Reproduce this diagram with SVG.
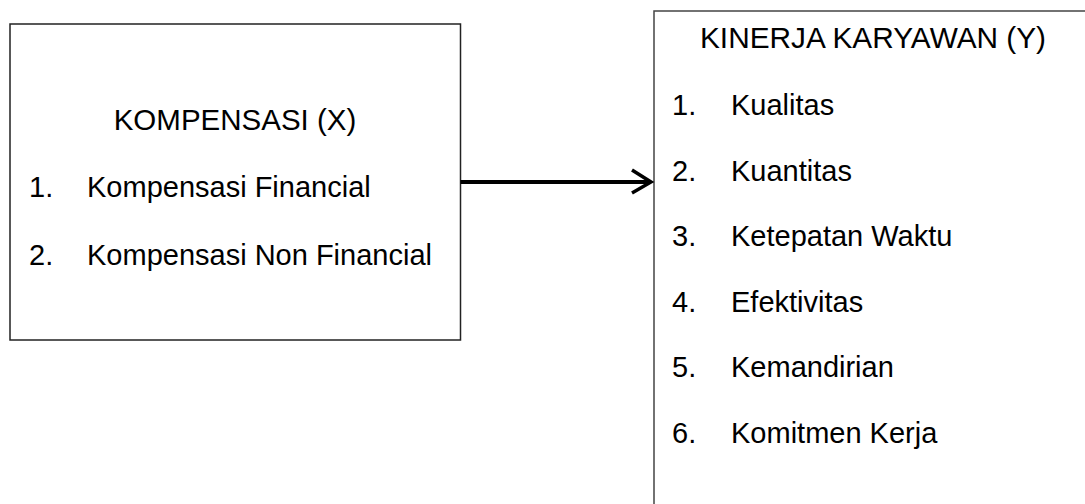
<svg xmlns="http://www.w3.org/2000/svg" width="1085" height="504" viewBox="0 0 1085 504">
<style>
.box{fill:#fff;stroke:#222;stroke-width:1.5}
.t{font-family:"Liberation Sans",Arial,sans-serif;font-size:29px;fill:#000}
</style>
<rect width="1085" height="504" fill="#fff"/>
<g id="kompensasi">
<rect class="box" x="10" y="24" width="450.5" height="316"/>
<text class="t" x="235" y="130" text-anchor="middle" style="font-size:29.5px">KOMPENSASI (X)</text>
<text class="t" x="29" y="197">1.</text><text class="t" x="87" y="197">Kompensasi Financial</text>
<text class="t" x="29" y="265">2.</text><text class="t" x="87" y="265">Kompensasi Non Financial</text>
</g>
<g id="kinerja">
<rect class="box" x="654" y="11" width="440" height="510" style="stroke:#444"/>
<text class="t" x="700" y="48" style="font-size:29.8px">KINERJA KARYAWAN (Y)</text>
<text class="t" x="672" y="115">1.</text><text class="t" x="731" y="115">Kualitas</text>
<text class="t" x="672" y="181">2.</text><text class="t" x="731" y="181">Kuantitas</text>
<text class="t" x="672" y="246">3.</text><text class="t" x="731" y="246">Ketepatan Waktu</text>
<text class="t" x="672" y="312">4.</text><text class="t" x="731" y="312">Efektivitas</text>
<text class="t" x="672" y="377">5.</text><text class="t" x="731" y="377">Kemandirian</text>
<text class="t" x="672" y="443">6.</text><text class="t" x="731" y="443">Komitmen Kerja</text>
</g>
<g id="connectors" fill="none" stroke="#000">
<line x1="460.5" y1="182" x2="650" y2="182" stroke-width="4"/>
<polyline points="632,170 651,182 632,193" stroke-width="3.5"/>
</g>
</svg>
